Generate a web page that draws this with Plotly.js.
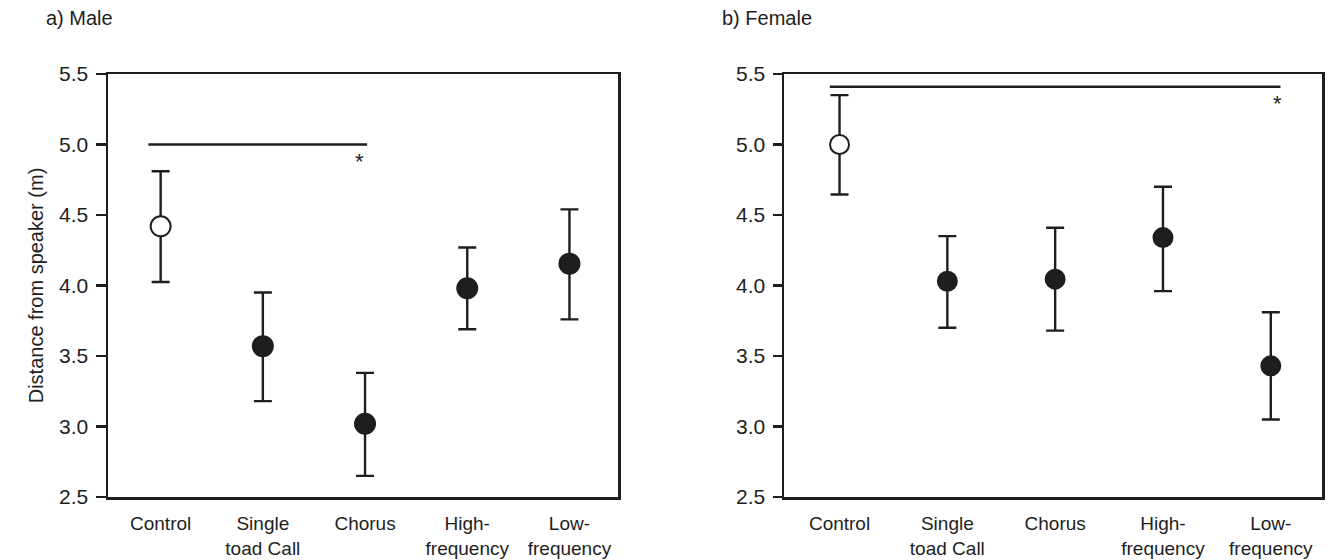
<!DOCTYPE html>
<html>
<head>
<meta charset="utf-8">
<script src="https://cdn.plot.ly/plotly-3.0.1.min.js"></script>
<style>html,body{margin:0;padding:0;background:#fff;}#chart{width:1342px;height:560px;}</style>
</head>
<body>
<div id="chart"></div>
<script>
// ---- data ----
const categories = ["Control", "Single<br>toad Call", "Chorus", "High-<br>frequency", "Low-<br>frequency"];
const catPos = [0, 1, 2, 3, 4];

const maleMean  = [4.42, 3.57, 3.02, 3.98, 4.155];
const maleUpper = [4.81, 3.95, 3.38, 4.27, 4.54];
const maleLower = [4.025, 3.18, 2.65, 3.69, 3.76];

const femaleMean  = [5.00, 4.03, 4.045, 4.34, 3.43];
const femaleUpper = [5.35, 4.35, 4.41, 4.70, 3.81];
const femaleLower = [4.645, 3.70, 3.68, 3.96, 3.05];

// significance bars and asterisks
const maleSig = {x0: -0.12, x1: 2.02, y: 5.0, starX: 1.95, starY: 4.88};
const femaleSig = {x0: -0.09, x1: 4.09, y: 5.41, starX: 4.06, starY: 5.29};

const yTicks = [2.5, 3.0, 3.5, 4.0, 4.5, 5.0, 5.5];
const yTickText = ["2.5", "3.0", "3.5", "4.0", "4.5", "5.0", "5.5"];

// ---- styling ----
const INK = "#1e1e1e";
const FONT = "Liberation Sans, Arial, sans-serif";
const fillColors = ["#ffffff", INK, INK, INK, INK];

function diff(a, b) { return a.map((v, i) => +(v - b[i]).toFixed(4)); }

function trace(mean, upper, lower, xa, ya, size, capw) {
  return {
    type: "scatter", mode: "markers",
    x: catPos, y: mean, xaxis: xa, yaxis: ya,
    marker: {size: size, color: fillColors, line: {color: INK, width: 2}},
    error_y: {type: "data", symmetric: false,
      array: diff(upper, mean), arrayminus: diff(mean, lower),
      color: INK, thickness: 2.4, width: capw},
    showlegend: false, hoverinfo: "skip", cliponaxis: false
  };
}

const data = [
  trace(maleMean, maleUpper, maleLower, "x", "y", 20, 9),
  trace(femaleMean, femaleUpper, femaleLower, "x2", "y2", 19, 9)
];

function xaxis(domain, anchor, fs) {
  return {
    domain: domain, anchor: anchor, range: [-0.515, 4.475],
    tickvals: catPos, ticktext: categories, ticks: "",
    showline: true, mirror: true, linecolor: INK, linewidth: 2.5,
    showgrid: false, zeroline: false, fixedrange: true,
    tickfont: {family: FONT, size: fs, color: INK}, ticklabelstandoff: 8
  };
}
function yaxis(anchor, ticklen, fs) {
  return {
    anchor: anchor, range: [2.5, 5.5],
    tickvals: yTicks, ticktext: yTickText, ticks: "outside", ticklen: ticklen,
    tickwidth: 2.5, tickcolor: INK,
    showline: true, mirror: true, linecolor: INK, linewidth: 2.5,
    showgrid: false, zeroline: false, fixedrange: true,
    tickfont: {family: FONT, size: fs, color: INK}, ticklabelstandoff: 3
  };
}

const layout = {
  width: 1342, height: 560,
  margin: {l: 0, r: 0, t: 74, b: 63},
  paper_bgcolor: "#fff", plot_bgcolor: "#fff",
  font: {family: FONT, color: INK},
  xaxis: xaxis([108/1342, 618/1342], "y", 19),
  yaxis: Object.assign(yaxis("x", 10, 21), {
    title: {text: "Distance from speaker (m)", font: {family: FONT, size: 20, color: INK}, standoff: 10}
  }),
  xaxis2: xaxis([784/1342, 1322/1342], "y2", 19),
  yaxis2: yaxis("x2", 9, 21),
  shapes: [
    {type: "line", xref: "x", yref: "y", x0: maleSig.x0, x1: maleSig.x1, y0: maleSig.y, y1: maleSig.y,
     line: {color: INK, width: 2.4}},
    {type: "line", xref: "x2", yref: "y2", x0: femaleSig.x0, x1: femaleSig.x1, y0: femaleSig.y, y1: femaleSig.y,
     line: {color: INK, width: 2.4}}
  ],
  annotations: [
    {text: "*", xref: "x", yref: "y", x: maleSig.starX, y: maleSig.starY, showarrow: false,
     font: {family: FONT, size: 22, color: INK}},
    {text: "*", xref: "x2", yref: "y2", x: femaleSig.starX, y: femaleSig.starY, showarrow: false,
     font: {family: FONT, size: 22, color: INK}},
    {text: "a) Male", xref: "paper", yref: "paper", x: 44/1342, y: 1, yshift: 74 - 18,
     xanchor: "left", yanchor: "middle", showarrow: false, font: {family: FONT, size: 20, color: INK}},
    {text: "b) Female", xref: "paper", yref: "paper", x: 720/1342, y: 1, yshift: 74 - 18,
     xanchor: "left", yanchor: "middle", showarrow: false, font: {family: FONT, size: 20, color: INK}}
  ]
};

Plotly.newPlot("chart", data, layout, {displayModeBar: false, staticPlot: true});
</script>
</body>
</html>
